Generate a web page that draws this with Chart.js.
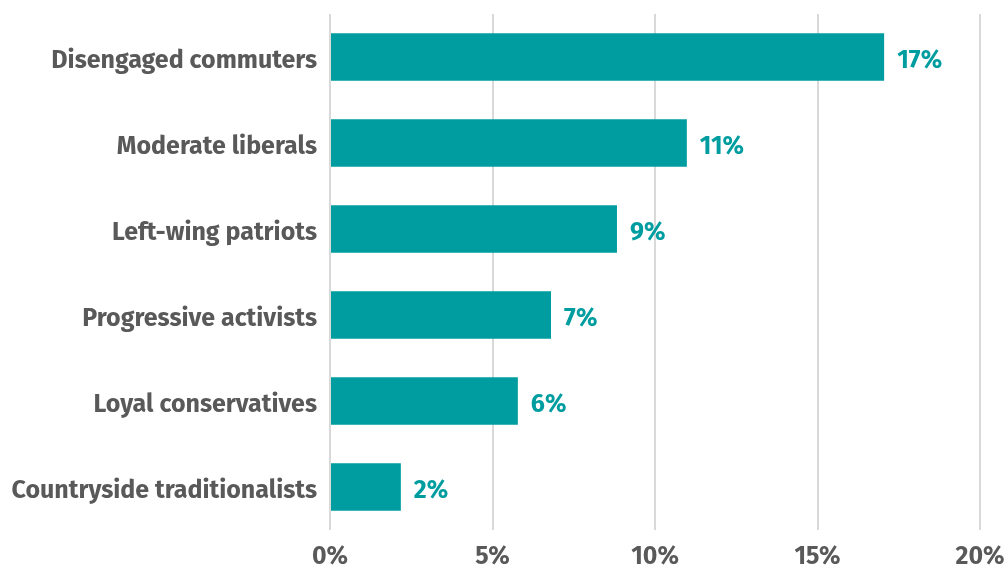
<!DOCTYPE html>
<html>
<head>
<meta charset="utf-8">
<style>
  html, body { margin: 0; padding: 0; background: #fff; }
  #wrap { width: 1004px; height: 568px; }
</style>
<script src="https://cdn.jsdelivr.net/npm/chart.js@4"></script>
</head>
<body>
<div id="wrap"><canvas id="segments" width="1004" height="568"></canvas></div>
<script>
const segments = ['Disengaged commuters', 'Moderate liberals', 'Left-wing patriots',
                  'Progressive activists', 'Loyal conservatives', 'Countryside traditionalists'];
const shares = [17.05, 10.98, 8.83, 6.8, 5.78, 2.18];
const xTicks = [0, 5, 10, 15, 20];

const teal = '#009da0';
const grey = '#595959';
const fontFamily = '"Fira Sans", "Open Sans", "Noto Sans", sans-serif';

// percent label just past the end of each bar
const valueLabels = {
    id: 'valueLabels',
    afterDatasetsDraw(chart) {
        const ctx = chart.ctx;
        const meta = chart.getDatasetMeta(0);
        ctx.save();
        ctx.font = 'bold 25px ' + fontFamily;
        ctx.fillStyle = teal;
        ctx.textAlign = 'left';
        ctx.textBaseline = 'middle';
        meta.data.forEach((bar, i) => {
            ctx.fillText(Math.round(shares[i]) + '%', bar.x + 13, bar.y + 4);
        });
        ctx.restore();
    }
};

const ctx = document.getElementById('segments');
const segmentChart = new Chart(ctx, {
    type: 'bar',
    data: {
        labels: segments,
        datasets: [{
            data: shares,
            backgroundColor: teal,
            borderWidth: 0,
            barPercentage: 0.55,
            categoryPercentage: 1
        }]
    },
    options: {
        indexAxis: 'y',
        responsive: false,
        animation: false,
        layout: { padding: { top: 14, right: 0, bottom: 0, left: 0 } },
        plugins: {
            legend: { display: false },
            tooltip: { enabled: false }
        },
        scales: {
            x: {
                min: 0,
                max: 20,
                afterBuildTicks(axis) {
                    axis.ticks = xTicks.map(v => ({ value: v }));
                },
                afterFit(axis) {
                    axis.height = 38;
                    axis.paddingLeft = 0;
                    axis.paddingRight = 24;
                },
                grid: { color: '#d9d9d9', lineWidth: 2, drawTicks: false },
                border: { display: false },
                ticks: {
                    padding: 12,
                    color: grey,
                    font: { family: fontFamily, size: 25, weight: 'bold' },
                    callback: v => v + '%'
                }
            },
            y: {
                afterFit(axis) {
                    axis.width = 330;
                    axis.paddingTop = 0;
                    axis.paddingBottom = 0;
                },
                grid: { display: false },
                border: { display: false },
                ticks: {
                    padding: 5,
                    labelOffset: 4,
                    color: grey,
                    font: { family: fontFamily, size: 25, weight: 'bold' }
                }
            }
        }
    },
    plugins: [valueLabels]
});
</script>
</body>
</html>
